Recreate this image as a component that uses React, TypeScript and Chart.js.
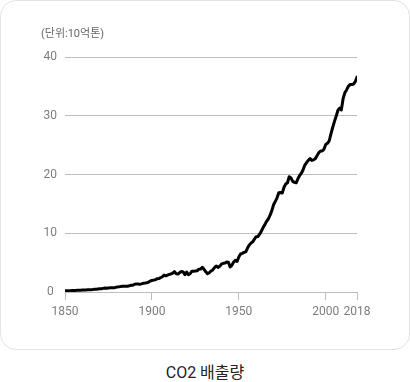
import React, { useEffect, useRef } from "react";
import { Chart, registerables } from "chart.js";

Chart.register(...registerables);

// Years 1850–2018 (one value per year), global CO2 emissions in 10억톤 (Gt)
const startYear = 1850;
const emissions: number[] = [
  // 1850-1859
  0.20, 0.20, 0.21, 0.22, 0.25, 0.26, 0.27, 0.28, 0.28, 0.30,
  // 1860-1869
  0.33, 0.35, 0.35, 0.37, 0.39, 0.40, 0.42, 0.45, 0.46, 0.50,
  // 1870-1879
  0.54, 0.57, 0.62, 0.67, 0.64, 0.69, 0.71, 0.72, 0.73, 0.78,
  // 1880-1889
  0.86, 0.88, 0.93, 0.99, 0.98, 0.97, 0.99, 1.05, 1.14, 1.15,
  // 1890-1899
  1.31, 1.35, 1.35, 1.33, 1.38, 1.48, 1.51, 1.57, 1.66, 1.86,
  // 1900-1909
  1.96, 2.02, 2.07, 2.26, 2.29, 2.43, 2.59, 2.87, 2.75, 2.88,
  // 1910-1919
  3.00, 3.06, 3.22, 3.46, 3.11, 3.07, 3.30, 3.50, 3.43, 2.95,
  // 1920-1929
  3.41, 2.94, 3.10, 3.55, 3.53, 3.57, 3.60, 3.89, 3.90, 4.20,
  // 1930-1939
  3.86, 3.44, 3.10, 3.27, 3.57, 3.76, 4.14, 4.43, 4.18, 4.37,
  // 1940-1949
  4.76, 4.89, 4.92, 5.10, 5.07, 4.25, 4.54, 5.10, 5.38, 5.20,
  // 1950-1959
  5.97, 6.47, 6.58, 6.75, 6.83, 7.48, 7.98, 8.32, 8.54, 8.99,
  // 1960-1969
  9.41, 9.45, 9.84, 10.38, 10.97, 11.47, 12.05, 12.43, 13.07, 13.85,
  // 1970-1979
  14.85, 15.42, 16.03, 16.91, 16.94, 16.84, 17.82, 18.38, 18.59, 19.63,
  // 1980-1989
  19.42, 18.83, 18.66, 18.59, 19.27, 19.83, 20.22, 20.80, 21.60, 22.04,
  // 1990-1999
  22.40, 22.70, 22.40, 22.50, 22.70, 23.20, 23.70, 24.00, 24.00, 24.30,
  // 2000-2009
  25.10, 25.30, 25.70, 26.90, 28.00, 29.00, 29.90, 30.90, 31.30, 31.00,
  // 2010-2018
  32.90, 33.90, 34.40, 35.00, 35.30, 35.30, 35.40, 35.80, 36.60,
];
const years: number[] = emissions.map((_, i) => startYear + i);

const xTickYears: number[] = [1850, 1900, 1950, 2000, 2018];
const yTickValues: number[] = [0, 10, 20, 30, 40];
const unitLabel = "(단위:10억톤)";
const chartTitle = "CO2 배출량";

const FONT = "Roboto, 'Noto Sans CJK KR', 'Noto Sans', sans-serif";

export default function App() {
  const canvasRef = useRef<HTMLCanvasElement | null>(null);

  useEffect(() => {
    const canvas = canvasRef.current;
    if (!canvas) return;
    const chart = new Chart(canvas, {
      type: "line",
      data: {
        datasets: [
          {
            data: years.map((y, i) => ({ x: y, y: emissions[i] })),
            borderColor: "#000000",
            borderWidth: 3,
            pointRadius: 0,
            tension: 0,
            borderJoinStyle: "round",
            borderCapStyle: "round",
            fill: false,
          },
        ],
      },
      options: {
        animation: false,
        responsive: false,
        maintainAspectRatio: false,
        layout: { padding: { left: 43, right: 53, top: 57, bottom: 30 } },
        plugins: {
          legend: { display: false },
          title: { display: false },
          tooltip: { enabled: false },
        },
        scales: {
          x: {
            type: "linear",
            min: xTickYears[0],
            max: xTickYears[xTickYears.length - 1],
            afterBuildTicks: (scale: any) => {
              scale.ticks = xTickYears.map((v) => ({ value: v }));
            },
            afterFit: (scale: any) => {
              scale.height = 28;
            },
            grid: {
              drawOnChartArea: false,
              drawTicks: true,
              tickLength: 8,
              color: "#bdbdbd",
            },
            border: { display: true, color: "#bdbdbd", width: 1 },
            ticks: {
              autoSkip: false,
              maxRotation: 0,
              padding: 5,
              color: "#7d7d7d",
              font: { family: FONT, size: 12 },
              callback: (v: any) => String(v),
            },
          },
          y: {
            type: "linear",
            min: yTickValues[0],
            max: yTickValues[yTickValues.length - 1],
            afterBuildTicks: (scale: any) => {
              scale.ticks = yTickValues.map((v) => ({ value: v }));
            },
            afterFit: (scale: any) => {
              scale.width = 22;
            },
            grid: {
              drawTicks: false,
              color: "#bdbdbd",
              lineWidth: 1,
            },
            border: { display: false },
            ticks: {
              padding: 8,
              crossAlign: "center",
              color: "#7d7d7d",
              font: { family: FONT, size: 12 },
            },
          },
        },
      } as any,
    });
    return () => chart.destroy();
  }, []);

  return (
    <div
      style={{
        position: "absolute",
        left: 0,
        top: 0,
        width: 410,
        height: 382,
        background: "#ffffff",
        fontFamily: FONT,
      }}
    >
      <div
        style={{
          position: "absolute",
          left: 0,
          top: 0,
          width: 410,
          height: 350,
          boxSizing: "border-box",
          border: "1px solid #e3e3e3",
          borderRadius: 16,
        }}
      />
      <canvas
        ref={canvasRef}
        width={410}
        height={350}
        style={{ position: "absolute", left: 0, top: 0, width: 410, height: 350 }}
      />
      <div
        style={{
          position: "absolute",
          left: 41,
          top: 26,
          fontSize: 11,
          color: "#666666",
          lineHeight: "16px",
          whiteSpace: "nowrap",
        }}
      >
        {unitLabel}
      </div>
      <div
        style={{
          position: "absolute",
          left: 0,
          width: 410,
          top: 362,
          textAlign: "center",
          fontSize: 16,
          color: "#222222",
          lineHeight: "22px",
        }}
      >
        {chartTitle}
      </div>
    </div>
  );
}
